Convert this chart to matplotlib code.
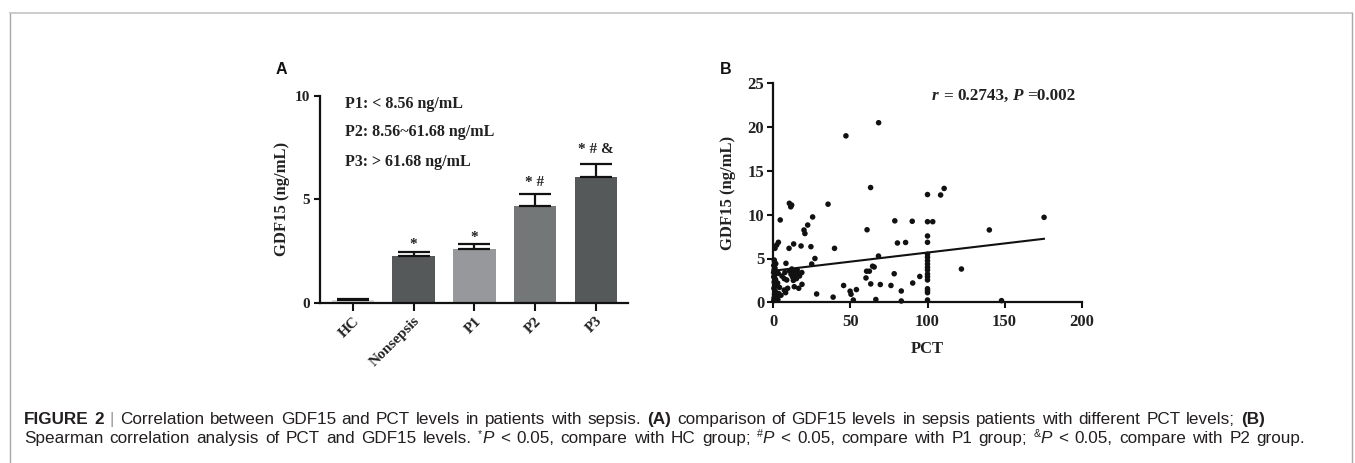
import matplotlib
matplotlib.use('Agg')
import matplotlib.pyplot as plt
from matplotlib.lines import Line2D

# ---------------- data ----------------
groups = ['HC', 'Nonsepsis', 'P1', 'P2', 'P3']
gdf15_mean = [0.15, 2.27, 2.58, 4.67, 6.07]
gdf15_err = [0.05, 0.20, 0.25, 0.56, 0.63]
bar_colors = ['#d9d9d9', '#55595a', '#96989b', '#747778', '#55595a']
sig_labels = ['', '*', '*', '* #', '* # &']
sig_y = [0.0, 2.63, 2.97, 5.64, 7.25]
range_notes = ['P1: < 8.56 ng/mL', 'P2: 8.56~61.68 ng/mL', 'P3: > 61.68 ng/mL']
range_note_y = [9.58, 8.23, 6.78]

pct = [68.3, 47.1, 63.1, 110.8, 108.5, 100, 10.4, 11.9, 11.3, 35.5,
       175.6, 25.5, 4.5, 78.8, 90.1, 100, 103.4, 22.3, 19.9, 20.5,
       60.8, 140.1, 100, 100, 80.5, 85.8, 3.3, 2.2, 1.1, 13.2,
       10.2, 18.0, 24.4, 39.7, 68.2, 27.0, 0.6, 8.2, 24.9, 122,
       64.4, 65.4, 60.5, 62.3, 78.4, 95, 60.1, 90.4, 63.2, 69.4,
       76.3, 45.6, 18.6, 53.9, 49.8, 83, 50.4, 28.1, 38.8, 51.9,
       66.5, 83, 148,
       100, 100, 100, 100, 100, 100, 100, 100, 100, 100, 100, 100, 100,
       0.3, 0.5, 0.8, 1.2, 0.4, 2.0, 0.6, 1.5, 0.3, 0.9, 0.2, 1.8,
       0.5, 1.1, 0.3, 1.6, 0.8, 2.5, 3.5, 3.0, 4.0, 2.8, 3.2,
       5.6, 7.1, 8.7, 7.5, 10.5, 11.5, 12.5, 13.5, 14.2, 15.0, 16.0,
       17.0, 12.0, 15.5, 18.5, 13.0,
       7.1, 9.3, 13.6, 16.5, 5.0, 8.0]
gdf15 = [20.5, 19.0, 13.1, 13.0, 12.25, 12.3, 11.3, 11.1, 10.9, 11.2,
         9.7, 9.74, 9.4, 9.3, 9.25, 9.2, 9.2, 8.82, 8.25, 7.85,
         8.28, 8.26, 7.57, 6.85, 6.77, 6.83, 6.85, 6.54, 6.16, 6.66,
         6.16, 6.43, 6.35, 6.16, 5.28, 5.0, 4.83, 4.45, 4.37, 3.8,
         4.12, 4.03, 3.55, 3.55, 3.26, 2.95, 2.78, 2.2, 2.1, 2.03,
         1.92, 1.92, 2.05, 1.45, 1.27, 1.29, 0.92, 0.95, 0.59, 0.26,
         0.32, 0.15, 0.19,
         5.48, 5.14, 4.75, 4.37, 4.0, 3.69, 3.23, 2.92, 2.55, 1.55, 1.32, 1.1, 0.26,
         0.2, 0.5, 0.9, 1.3, 1.6, 1.9, 2.3, 2.6, 2.9, 3.1, 3.4, 3.5,
         3.7, 3.9, 4.2, 4.4, 4.6, 0.6, 1.0, 0.3, 1.7, 2.2, 3.3,
         3.0, 2.7, 2.55, 3.4, 3.6, 3.2, 2.9, 3.5, 3.1, 2.7, 3.3,
         3.0, 3.8, 3.7, 3.4, 2.5,
         1.4, 1.6, 1.78, 1.6, 0.8, 1.1]
fit_pct = [0, 175.5]
fit_gdf15 = [3.6, 7.25]

a_yticks = [0, 5, 10]
b_xticks = [0, 50, 100, 150, 200]
b_yticks = [0, 5, 10, 15, 20, 25]

# ---------------- figure ----------------
W, H = 1355, 463
fig = plt.figure(figsize=(W / 100, H / 100), dpi=100)
fig.patch.set_facecolor('white')

SERIF = 'Liberation Serif'
SANS = 'Liberation Sans'


def axes_px(left, top, right, bottom):
    return fig.add_axes([left / W, 1 - bottom / H, (right - left) / W, (bottom - top) / H])


def style_axes(ax):
    for s in ['top', 'right']:
        ax.spines[s].set_visible(False)
    for s in ['left', 'bottom']:
        ax.spines[s].set_linewidth(1.6)
        ax.spines[s].set_color('#111111')
    ax.tick_params(direction='out', width=1.5, color='#111111')


# ---- Panel A ----
axA = axes_px(320, 95.7, 628, 302.7)
xs = list(range(len(groups)))
axA.bar(xs, gdf15_mean, width=0.7, color=bar_colors, edgecolor='none', zorder=2)
axA.errorbar(xs, gdf15_mean, yerr=[[0] * len(xs), gdf15_err], fmt='none',
             ecolor='#111111', elinewidth=1.6, capsize=11.5, capthick=1.6, zorder=3)
axA.set_xlim(-0.54, 4.53)
axA.set_ylim(0, 10)
style_axes(axA)
axA.set_yticks(a_yticks)
axA.set_xticks(xs)
axA.tick_params(axis='y', length=4.5, pad=2.5)
axA.tick_params(axis='x', length=5.5, pad=3)
axA.set_yticklabels([str(v) for v in a_yticks], fontfamily=SERIF, fontweight='bold', fontsize=11, color='#222222')
axA.set_xticklabels(groups, fontfamily=SERIF, fontweight='bold', fontsize=11, color='#222222',
                    rotation=45, ha='right', rotation_mode='anchor')
axA.set_ylabel('GDF15 (ng/mL)', fontfamily=SERIF, fontweight='bold', fontsize=12, color='#222222', labelpad=3.5)
for x, lab, y in zip(xs, sig_labels, sig_y):
    if lab:
        axA.text(x, y, lab, ha='center', va='baseline', fontfamily=SERIF, fontweight='bold',
                 fontsize=11, color='#222222')
for note, y in zip(range_notes, range_note_y):
    axA.text(-0.13, y, note, ha='left', va='center', fontfamily=SERIF, fontweight='bold',
             fontsize=11.5, color='#222222')
fig.text(275.5 / W, 1 - 70 / H, 'A', fontfamily=SANS, fontweight='bold', fontsize=11.5,
         ha='left', va='center', color='#111111')

# ---- Panel B ----
axB = axes_px(773.3, 83.3, 1081.7, 302.3)
axB.scatter(pct, gdf15, s=16, color='#111111', edgecolors='none', zorder=3, clip_on=False)
axB.plot(fit_pct, fit_gdf15, color='#111111', linewidth=1.5, zorder=2)
axB.set_xlim(0, 200)
axB.set_ylim(0, 25)
style_axes(axB)
axB.set_xticks(b_xticks)
axB.set_yticks(b_yticks)
axB.tick_params(axis='both', length=4.5)
axB.tick_params(axis='y', pad=2)
axB.tick_params(axis='x', pad=4)
axB.set_xticklabels([str(v) for v in b_xticks], fontfamily=SERIF, fontweight='bold', fontsize=12, color='#222222')
axB.set_yticklabels([str(v) for v in b_yticks], fontfamily=SERIF, fontweight='bold', fontsize=12, color='#222222')
axB.set_xlabel('PCT', fontfamily=SERIF, fontweight='bold', fontsize=12, color='#222222', labelpad=7.5)
axB.set_ylabel('GDF15 (ng/mL)', fontfamily=SERIF, fontweight='bold', fontsize=12, color='#222222', labelpad=8)
fig.text(720 / W, 1 - 69 / H, 'B', fontfamily=SANS, fontweight='bold', fontsize=11.5,
         ha='left', va='center', color='#111111')

renderer = fig.canvas.get_renderer()


def text_width(s, **kw):
    t1 = fig.text(0, 0, '|' + s + '|', **kw)
    t2 = fig.text(0, 0, '||', **kw)
    w = t1.get_window_extent(renderer).width - t2.get_window_extent(renderer).width
    t1.remove()
    t2.remove()
    return w


def split_words(runs):
    """Split runs into (token, kw) where tokens are words or single spaces."""
    out = []
    for s, kw in runs:
        buf = ''
        for ch in s:
            if ch == ' ':
                if buf:
                    out.append((buf, kw))
                    buf = ''
                out.append((' ', kw))
            else:
                buf += ch
        if buf:
            out.append((buf, kw))
    return out


def draw_runs(x_px, base_px, runs, end_px=None):
    toks = split_words(runs)
    widths = []
    for s, kw in toks:
        k = dict(kw)
        k.pop('dy', None)
        widths.append(text_width(s, **k))
    extra = 0.0
    nsp = sum(1 for s, _ in toks if s == ' ')
    if end_px is not None and nsp:
        extra = (end_px - x_px - sum(widths)) / nsp
    x = x_px
    for (s, kw), w in zip(toks, widths):
        k = dict(kw)
        dy = k.pop('dy', 0)
        if s == ' ':
            x += w + extra
            continue
        fig.text(x / W, 1 - (base_px - dy) / H, s, ha='left', va='baseline', **k)
        x += w
    return x


# ---- r / P annotation ----
bi = dict(fontfamily=SERIF, fontweight='bold', fontstyle='italic', fontsize=12.3, color='#222222')
bd = dict(fontfamily=SERIF, fontweight='bold', fontsize=12.3, color='#222222')
draw_runs(932, 100, [('r', bi), (' = 0.2743, ', bd), ('P', bi), (' =0.002', bd)])

# ---- frame ----
fc = '#c4c4c4'
fig.add_artist(Line2D([9.5 / W, 9.5 / W], [0, 1 - 12.5 / H], transform=fig.transFigure, color='#a8a8a8', lw=1.0))
fig.add_artist(Line2D([9.5 / W, 1351.5 / W], [1 - 12.5 / H, 1 - 12.5 / H], transform=fig.transFigure, color=fc, lw=1.2))
fig.add_artist(Line2D([1351.5 / W, 1351.5 / W], [0, 1 - 12.5 / H], transform=fig.transFigure, color='#a8a8a8', lw=1.0))

# ---- caption ----
cs = 12.3
reg = dict(fontfamily=SANS, fontsize=cs, color='#231f20')
bold = dict(fontfamily=SANS, fontsize=cs, color='#231f20', fontweight='bold')
ital = dict(fontfamily=SANS, fontsize=cs, color='#231f20', fontstyle='italic')
sup = dict(fontfamily=SANS, fontsize=cs * 0.62, color='#231f20', dy=6)
bar_sep = dict(fontfamily=SANS, fontsize=cs, color='#9a9a9a')

draw_runs(24, 424, [('FIGURE 2', bold), (' ', reg), ('|', bar_sep),
                    (' Correlation between GDF15 and PCT levels in patients with sepsis. ', reg),
                    ('(A)', bold),
                    (' comparison of GDF15 levels in sepsis patients with different PCT levels; ', reg),
                    ('(B)', bold)], end_px=1265)
draw_runs(24, 443, [('Spearman correlation analysis of PCT and GDF15 levels. ', reg),
                    ('*', sup), ('P', ital), (' < 0.05, compare with HC group; ', reg),
                    ('#', sup), ('P', ital), (' < 0.05, compare with P1 group; ', reg),
                    ('&', sup), ('P', ital), (' < 0.05, compare with P2 group.', reg)], end_px=1305)

fig.savefig('out.png', dpi=100, facecolor='white')
